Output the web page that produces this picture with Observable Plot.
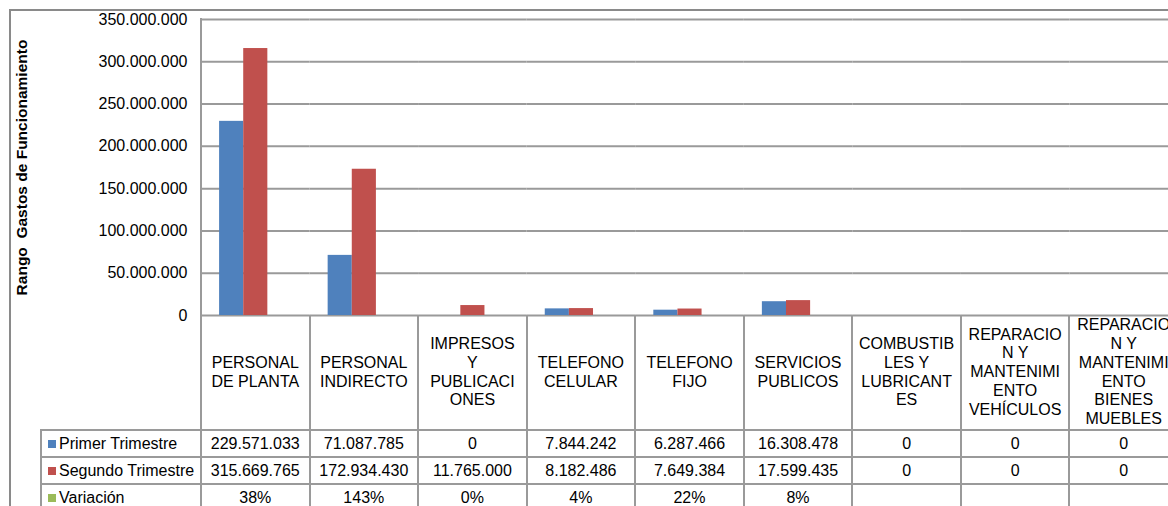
<!DOCTYPE html>
<html><head><meta charset="utf-8">
<script src="https://cdn.jsdelivr.net/npm/d3@7"></script>
<script src="https://cdn.jsdelivr.net/npm/@observablehq/plot@0.6"></script>
<style>
body{margin:0;background:#fff;}
#wrap{position:relative;width:1168px;height:506px;overflow:hidden;font-family:"Liberation Sans",Arial,sans-serif;color:#000;background:#fff;}
#frame{position:absolute;left:9px;top:9px;width:1400px;height:800px;border-left:2px solid #8a8a8a;border-top:2px solid #8a8a8a;}
#chart{position:absolute;left:0;top:0;}
.ln{position:absolute;background:#9a9a9a;}
.cell{position:absolute;display:flex;align-items:center;justify-content:center;text-align:center;white-space:pre-line;}
.hdr{font-size:16px;line-height:18.7px;}
.val{font-size:16px;}
.leg{position:absolute;display:flex;align-items:center;font-size:16px;white-space:nowrap;}
.sw{display:inline-block;width:8px;height:8px;margin-left:7px;margin-right:3px;}
g[aria-label="y-axis label"] text{font-weight:bold;font-size:15.5px;white-space:pre;}
</style>
</head><body>
<div id="wrap"><div id="frame"></div><div id="chart"></div></div>
<script>
const categories = ["PERSONAL DE PLANTA","PERSONAL INDIRECTO","IMPRESOS Y PUBLICACIONES","TELEFONO CELULAR","TELEFONO FIJO","SERVICIOS PUBLICOS","COMBUSTIBLES Y LUBRICANTES","REPARACION Y MANTENIMIENTO VEHÍCULOS","REPARACION Y MANTENIMIENTO BIENES MUEBLES"];
const categoryLabels = ["PERSONAL\nDE PLANTA","PERSONAL\nINDIRECTO","IMPRESOS\nY\nPUBLICACI\nONES","TELEFONO\nCELULAR","TELEFONO\nFIJO","SERVICIOS\nPUBLICOS","COMBUSTIB\nLES Y\nLUBRICANT\nES","REPARACIO\nN Y\nMANTENIMI\nENTO\nVEHÍCULOS","REPARACIO\nN Y\nMANTENIMI\nENTO\nBIENES\nMUEBLES"];
const seriesNames = ["Primer Trimestre","Segundo Trimestre","Variación"];
const seriesColors = ["#4F81BD","#C0504D","#9BBB59"];
const primerTrimestre = [229571033,71087785,0,7844242,6287466,16308478,0,0,0];
const segundoTrimestre = [315669765,172934430,11765000,8182486,7649384,17599435,0,0,0];
const variacion = [0.38,1.43,0,0.04,0.22,0.08,null,null,null];
const primerLabels = ["229.571.033","71.087.785","0","7.844.242","6.287.466","16.308.478","0","0","0"];
const segundoLabels = ["315.669.765","172.934.430","11.765.000","8.182.486","7.649.384","17.599.435","0","0","0"];
const variacionLabels = ["38%","143%","0%","4%","22%","8%","","",""];
const yTicks = [0,50000000,100000000,150000000,200000000,250000000,300000000,350000000];
const yTitle = "Rango  Gastos de Funcionamiento";

const rows = categories.flatMap((c,i)=>[
  {cat:c, series:seriesNames[0], value:primerTrimestre[i]},
  {cat:c, series:seriesNames[1], value:segundoTrimestre[i]},
  {cat:c, series:seriesNames[2], value:variacion[i]}
]).filter(d=>d.value!=null);

const fmt = d3.formatLocale({decimal:",",thousands:".",grouping:[3],currency:["$",""]}).format(",d");

const chart = Plot.plot({
  width:1192, height:316, marginLeft:201, marginRight:14, marginTop:19, marginBottom:1,
  style:{fontFamily:"'Liberation Sans', Arial, sans-serif", fontSize:"16px", color:"#000", background:"transparent", overflow:"visible", maxWidth:"none"},
  fx:{domain:categories, paddingInner:0, paddingOuter:0, round:false, axis:null, label:null},
  x:{domain:seriesNames, paddingInner:0, paddingOuter:0.75, round:false, axis:null},
  y:{domain:[0,350000000]},
  color:{domain:seriesNames, range:seriesColors},
  marks:[
    Plot.ruleY(yTicks, {stroke:"#9a9a9a", strokeWidth:2}),
    Plot.barY(rows, {fx:"cat", x:"series", y:"value", fill:"series"}),
    Plot.axisY(yTicks, {tickSize:0, tickPadding:14, tickFormat:fmt, fontSize:16, label:yTitle, labelAnchor:"center", labelArrow:"none", labelOffset:186})
  ]
});
document.getElementById("chart").appendChild(chart);

// data table below the axis, aligned to the fx scale
const wrap = document.getElementById("wrap");
const fx = chart.scale("fx");
const ys = chart.scale("y");
const step = fx.step || fx.bandwidth;
const top0 = ys.apply(0);
const topMax = ys.apply(350000000);
const hdrH = 115, rowH = 27;
const legLeft = 41;
const bounds = categories.map(c=>fx.apply(c));
bounds.push(bounds[bounds.length-1]+step);
function el(cls, x, y, w, h, html){
  const d=document.createElement("div"); d.className=cls;
  Object.assign(d.style,{left:x+"px",top:y+"px",width:w+"px",height:h+"px"});
  if(html!=null) d.innerHTML=html;
  wrap.appendChild(d); return d;
}
const bottom = top0 + hdrH + rowH*3 + 2;
bounds.forEach((b,i)=>{ el("ln", b-1, i===0?topMax-1:top0, 2, bottom-(i===0?topMax-1:top0)); });
el("ln", legLeft-1, top0+hdrH-1, 2, bottom-(top0+hdrH));
for(let r=0;r<=3;r++){ el("ln", legLeft-1, top0+hdrH+rowH*r-1, bounds[bounds.length-1]-legLeft+2, 2); }
categories.forEach((c,i)=>{ el("cell hdr", bounds[i], top0, step, hdrH).textContent = categoryLabels[i]; });
const tableRows = [primerLabels, segundoLabels, variacionLabels];
tableRows.forEach((vals,r)=>{
  const y = top0+hdrH+rowH*r;
  const lg = el("leg", legLeft, y, bounds[0]-legLeft, rowH);
  const sw = document.createElement("span"); sw.className="sw"; sw.style.background=seriesColors[r]; lg.appendChild(sw);
  lg.appendChild(document.createTextNode(seriesNames[r]));
  vals.forEach((v,i)=>{ el("cell val", bounds[i], y, step, rowH).textContent = v; });
});
</script>
</body></html>
